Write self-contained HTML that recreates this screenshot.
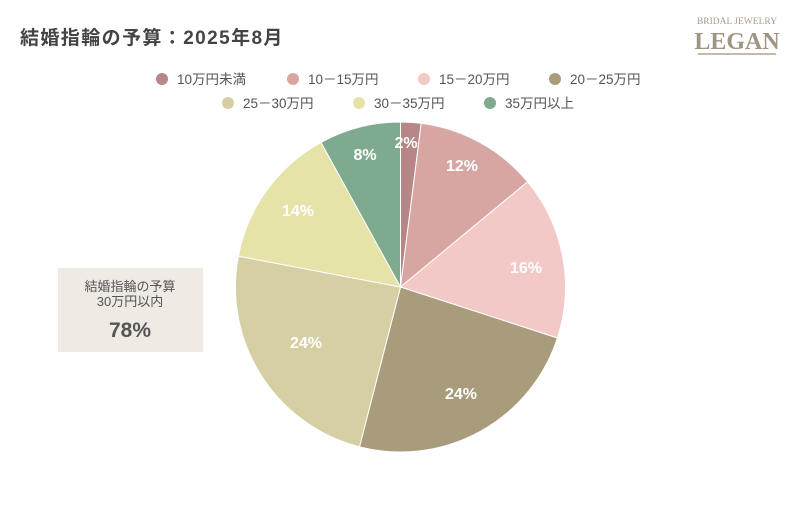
<!DOCTYPE html>
<html><head><meta charset="utf-8"><style>
body{margin:0;background:#fff;}
svg text{font-family:"Liberation Sans","Noto Sans CJK JP",sans-serif;}
</style></head><body>
<svg width="800" height="500" viewBox="0 0 800 500" xmlns="http://www.w3.org/2000/svg">
<rect width="800" height="500" fill="#fff"/>
<text x="20" y="44" font-size="19" font-weight="bold" fill="#444" letter-spacing="1.4">結婚指輪の予算：2025年8月</text>
<text x="737" y="24" font-size="9.5" fill="#a89c8c" text-anchor="middle" style="font-family:'Liberation Serif',serif">BRIDAL JEWELRY</text>
<text x="737" y="49" font-size="24" font-weight="bold" fill="#a09482" text-anchor="middle" style="font-family:'Liberation Serif',serif">LEGAN</text>
<line x1="698" y1="54" x2="776" y2="54" stroke="#b0a494" stroke-width="1.5"/>
<g font-size="13.5" fill="#555">
<circle cx="162" cy="79" r="6" fill="#b88686"/><text x="177" y="84">10万円未満</text>
<circle cx="293" cy="79" r="6" fill="#d8a6a2"/><text x="308" y="84">10－15万円</text>
<circle cx="424" cy="79" r="6" fill="#f3c9c7"/><text x="439" y="84">15－20万円</text>
<circle cx="555" cy="79" r="6" fill="#a89c7c"/><text x="570" y="84">20－25万円</text>
<circle cx="228" cy="103" r="6" fill="#d6cfa4"/><text x="243" y="108">25－30万円</text>
<circle cx="359" cy="103" r="6" fill="#e6e3a8"/><text x="374" y="108">30－35万円</text>
<circle cx="490" cy="103" r="6" fill="#7eab8f"/><text x="505" y="108">35万円以上</text>
</g>
<g stroke="#fff" stroke-width="1">
<path d="M400.5,287 L400.5,122 A165,165 0 0 1 421.2,123.3 Z" fill="#b88686"/>
<path d="M400.5,287 L421.2,123.3 A165,165 0 0 1 527.6,181.8 Z" fill="#d8a6a2"/>
<path d="M400.5,287 L527.6,181.8 A165,165 0 0 1 557.4,338.0 Z" fill="#f3c9c7"/>
<path d="M400.5,287 L557.4,338.0 A165,165 0 0 1 359.5,446.8 Z" fill="#a89c7c"/>
<path d="M400.5,287 L359.5,446.8 A165,165 0 0 1 238.4,256.1 Z" fill="#d6cfa4"/>
<path d="M400.5,287 L238.4,256.1 A165,165 0 0 1 321.0,142.4 Z" fill="#e6e3a8"/>
<path d="M400.5,287 L321.0,142.4 A165,165 0 0 1 400.5,122 Z" fill="#7eab8f"/>
</g>
<g font-size="16" font-weight="bold" fill="#fff" text-anchor="middle">
<text x="406" y="148">2%</text>
<text x="462" y="171">12%</text>
<text x="526" y="273">16%</text>
<text x="461" y="399">24%</text>
<text x="306" y="348">24%</text>
<text x="298" y="216">14%</text>
<text x="365" y="160">8%</text>
</g>
<rect x="58" y="268" width="145" height="84" fill="#efebe4"/>
<g fill="#555" text-anchor="middle">
<text x="130" y="291" font-size="13">結婚指輪の予算</text>
<text x="130" y="306" font-size="13">30万円以内</text>
<text x="130" y="337" font-size="21" font-weight="bold" fill="#555">78%</text>
</g>
</svg>
</body></html>
